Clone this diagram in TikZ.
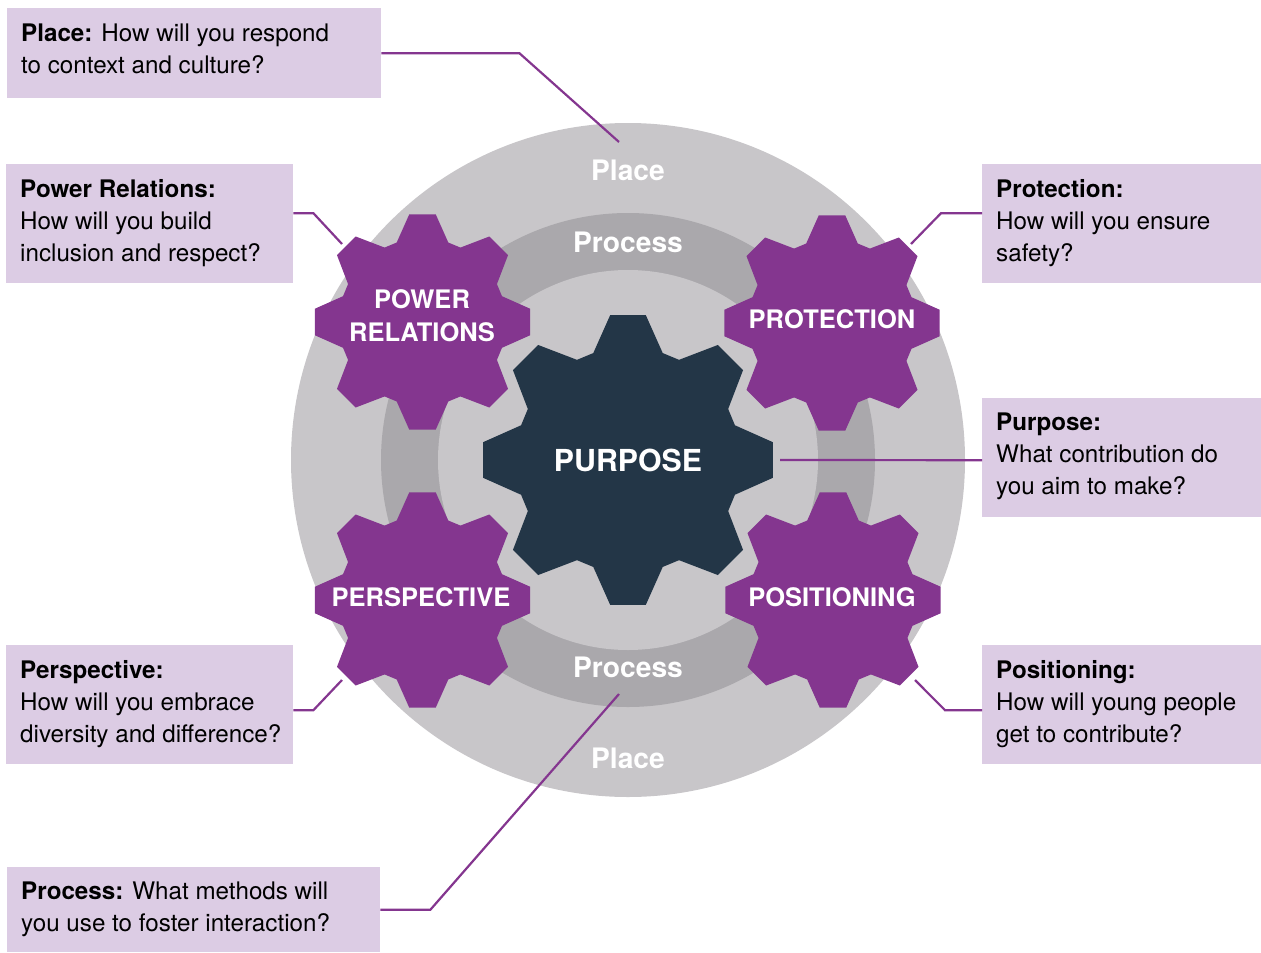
\documentclass[tikz,border=0pt]{standalone}
\usepackage{fontspec}
\setmainfont{TeX Gyre Heros}
\definecolor{ringlight}{HTML}{C8C6C9}
\definecolor{ringdark}{HTML}{AAA8AC}
\definecolor{gearpurple}{HTML}{84368F}
\definecolor{gearnavy}{HTML}{233647}
\definecolor{boxfill}{HTML}{DCCCE4}
\newcommand{\drawgear}[4]{%
  \fill[#4, shift={(#1,#2)}] (72:0.77*#3)
    \foreach \a in {90,135,...,405}{ -- (\a-18:0.77*#3) -- (\a-7:#3) -- (\a+7:#3) -- (\a+18:0.77*#3) } -- cycle;}
\begin{document}
\begin{tikzpicture}[x=1pt,y=-1pt,
  qbox/.style={fill=boxfill, draw=none, inner sep=0pt, anchor=north west},
  qtext/.style={inner sep=0pt, anchor=north west, align=left, text=black, font=\fontsize{24.2}{32}\selectfont},
  conn/.style={draw=gearpurple, line width=2.2pt},
  ringlabel/.style={text=white, anchor=base, font=\bfseries\fontsize{28.2}{30}\selectfont},
  gearlabel/.style={text=white, align=center, font=\bfseries\fontsize{25.5}{33}\selectfont},
]
\useasboundingbox (0,0) rectangle (1261,953);

% rings
\fill[ringlight] (628,460) circle[radius=337pt];
\fill[ringdark] (628,460) circle[radius=247pt];
\fill[ringlight] (628,460) circle[radius=190pt];

\node[ringlabel] (placetop) at (628,180) {Place};
\node[ringlabel] (processtop) at (628,252) {Process};
\node[ringlabel] (processbot) at (628,677) {Process};
\node[ringlabel] (placebot) at (628,768) {Place};

% gears
\drawgear{628}{460}{146}{gearnavy}
\drawgear{422.5}{322}{108.5}{gearpurple}
\drawgear{832}{323}{108.5}{gearpurple}
\drawgear{422.5}{600}{108.5}{gearpurple}
\drawgear{833}{600}{108.5}{gearpurple}

\node[text=white, anchor=base, font=\bfseries\fontsize{30.3}{32}\selectfont] (purpose) at (628,471) {PURPOSE};
\node[gearlabel] (power) at (422,316) {POWER\\RELATIONS};
\node[gearlabel, anchor=base] (protection) at (832,328) {PROTECTION};
\node[gearlabel, anchor=base] (perspective) at (421,606) {PERSPECTIVE};
\node[gearlabel, anchor=base] (positioning) at (832,606) {POSITIONING};

% boxes
\node[qbox, minimum width=374pt, minimum height=90pt] (placebox) at (7,8) {};
\node[qtext] (placetext) at (21,24) {\textbf{Place:} How will you respond\\to context and culture?};

\node[qbox, minimum width=287pt, minimum height=119pt] (powerbox) at (6,164) {};
\node[qtext] (powertext) at (20,179) {\textbf{Power Relations:}\\How will you build\\inclusion and respect?};

\node[qbox, minimum width=279pt, minimum height=119pt] (protbox) at (982,164) {};
\node[qtext] (prottext) at (996,179) {\textbf{Protection:}\\How will you ensure\\safety?};

\node[qbox, minimum width=279pt, minimum height=119pt] (purpbox) at (982,398) {};
\node[qtext] (purptext) at (996,413) {\textbf{Purpose:}\\What contribution do\\you aim to make?};

\node[qbox, minimum width=287pt, minimum height=119pt] (perspbox) at (6,645) {};
\node[qtext] (persptext) at (20,660) {\textbf{Perspective:}\\How will you embrace\\diversity and difference?};

\node[qbox, minimum width=279pt, minimum height=119pt] (posbox) at (982,645) {};
\node[qtext] (postext) at (996,660) {\textbf{Positioning:}\\How will young people\\get to contribute?};

\node[qbox, minimum width=373pt, minimum height=85pt] (procbox) at (7,867) {};
\node[qtext] (proctext) at (21,882) {\textbf{Process:} What methods will\\you use to foster interaction?};

% connector ends
\coordinate (placeend) at (619,142);
\coordinate (powerend) at (342,244);
\coordinate (protend) at (911,244);
\coordinate (purpend) at (780,460);
\coordinate (perspend) at (342,680);
\coordinate (posend) at (915,680);
\coordinate (procend) at (619,694);

\draw[conn] (placebox.east) -- ++(138,0) -- (placeend);
\draw[conn] ([yshift=10.5pt]powerbox.east) -- ++(20,0) -- (powerend);
\draw[conn] ([yshift=10.5pt]protbox.west) -- ++(-41,0) -- (protend);
\draw[conn] ([yshift=-2.5pt]purpbox.west) -- (purpend);
\draw[conn] ([yshift=-5.5pt]perspbox.east) -- ++(20,0) -- (perspend);
\draw[conn] ([yshift=-5.5pt]posbox.west) -- ++(-37,0) -- (posend);
\draw[conn] (procbox.east) -- ++(50,0) -- (procend);
\end{tikzpicture}
\end{document}
